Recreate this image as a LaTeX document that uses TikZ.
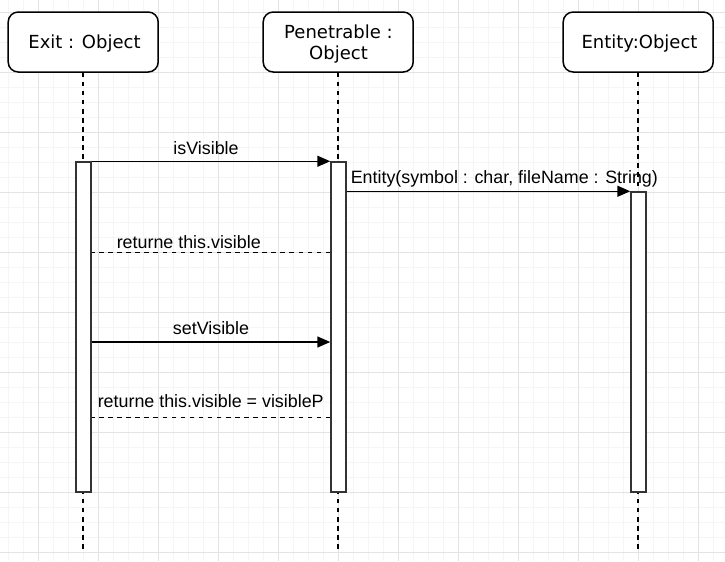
\documentclass[tikz,border=0pt]{standalone}
\usepackage{fontspec}
\setmainfont{Liberation Sans}
\newfontfamily\boxfont{DejaVu Sans}
\usetikzlibrary{arrows.meta,calc}
\definecolor{gridminor}{HTML}{F5F5F5}
\definecolor{gridmajor}{HTML}{E3E3E3}
\definecolor{barline}{HTML}{333333}
\begin{document}
\begin{tikzpicture}[x=0.75pt,y=-0.75pt,
 lifebox/.style={draw=black, line width=1.125pt, rounded corners=7.5pt, fill=white, minimum width=112.5pt, minimum height=45pt, inner sep=0pt},
 boxtext/.style={inner sep=0pt, align=center, font=\boxfont\fontsize{13.5}{15.75}\selectfont},
 actbar/.style={draw=barline, line width=1.125pt, fill=white, minimum width=11.25pt, inner sep=0pt},
 lifeline/.style={draw=black, line width=1.2pt, dash pattern=on 3.4pt off 3.4pt},
 msg/.style={draw=black, line width=1.125pt, -{Triangle[length=9.75pt,width=8.25pt]}},
 ret/.style={draw=black, line width=1pt, dash pattern=on 3.4pt off 3.4pt},
 lbl/.style={inner sep=0pt, font=\fontsize{13.4}{16}\selectfont}
]
\useasboundingbox (0,0) rectangle (725,561);
\fill[white] (0,0) rectangle (725,561);
% grid
\foreach \gx in {8.5,23.5,...,725} {\draw[gridminor, line width=0.75pt] (\gx,0) -- (\gx,561);}
\foreach \gy in {-2.5,12.5,...,561} {\draw[gridminor, line width=0.75pt] (0,\gy) -- (725,\gy);}
\foreach \gx in {38.5,98.5,...,725} {\draw[gridmajor, line width=0.75pt] (\gx,0) -- (\gx,561);}
\foreach \gy in {12.5,72.5,...,561} {\draw[gridmajor, line width=0.75pt] (0,\gy) -- (725,\gy);}

% participants
\node[lifebox] (exit) at (83.2,42) {};
\node[lifebox] (pen) at (338.2,42) {};
\node[lifebox] (ent) at (638.2,42) {};
\node[boxtext, anchor=base] (exitt) at (84.5,48.5) {Exit : Object};
\node[boxtext] (pent) at (338.5,44.5) {Penetrable :\\Object};
\node[boxtext, anchor=base] (entt) at (639.5,48.5) {Entity:Object};

% lifelines
\coordinate (exitend) at (83.2,552);
\coordinate (penend) at (338.2,552);
\coordinate (entend) at (638.2,552);
\draw[lifeline] (exit.south) -- (exitend);
\draw[lifeline] (pen.south) -- (penend);
\draw[lifeline] (ent.south) -- (entend);

% activation bars
\node[actbar, minimum height=247.5pt] (exitbar) at (83.5,327) {};
\node[actbar, minimum height=247.5pt] (penbar) at (338.5,327) {};
\node[actbar, minimum height=225pt] (entbar) at (638.5,342) {};

% messages
\draw[msg] (exitbar.north east) -- (penbar.north west);
\draw[msg] (penbar.east |- entbar.north) -- (entbar.north west);
\coordinate (r1) at (0,252.5);
\draw[ret] (penbar.west |- r1) -- (exitbar.east |- r1);
\coordinate (m3) at (0,342);
\draw[msg] (exitbar.east |- m3) -- (penbar.west |- m3);
\coordinate (r2) at (0,417.5);
\draw[ret] (penbar.west |- r2) -- (exitbar.east |- r2);

% labels
\node[lbl, anchor=base] (l1) at (206,154) {isVisible};
\node[lbl, anchor=base west] (l2) at (350.5,183) {Entity(symbol : char, fileName : String)};
\node[lbl, anchor=base west] (l3) at (116.5,248) {returne this.visible};
\node[lbl, anchor=base] (l4) at (211,334) {setVisible};
\node[lbl, anchor=base west] (l5) at (97.5,407) {returne this.visible = visibleP};
\end{tikzpicture}
\end{document}
